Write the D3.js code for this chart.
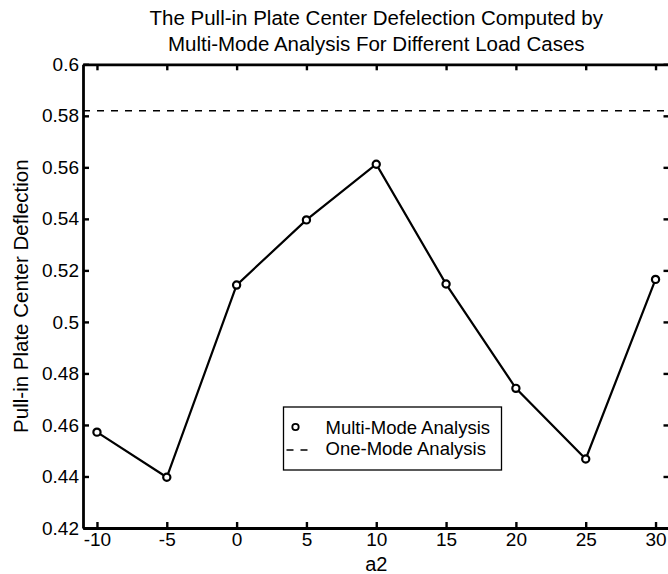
<!DOCTYPE html>
<html>
<head>
<meta charset="utf-8">
<script src="https://cdn.jsdelivr.net/npm/d3@7"></script>
<style>
  html, body { margin: 0; padding: 0; background: #fff; }
  svg { display: block; }
  text { font-family: "Liberation Sans", Arial, Helvetica, sans-serif; fill: #000; }
</style>
</head>
<body>
<svg id="chart" width="668" height="574"></svg>
<script>
// Load-case parameter a2 and the pull-in centre deflection from multi-mode analysis
const a2Values = [-10, -5, 0, 5, 10, 15, 20, 25, 30];
const multiModeDeflection = [0.4572, 0.4397, 0.5143, 0.5396, 0.5612, 0.5147, 0.4742, 0.4468, 0.5165];
// Single-mode result (constant across load cases)
const oneModeDeflection = 0.582;

const xTicks = [-10, -5, 0, 5, 10, 15, 20, 25, 30];
const yTicks = [0.42, 0.44, 0.46, 0.48, 0.5, 0.52, 0.54, 0.56, 0.58, 0.6];
const titleLines = [
  "The Pull-in Plate Center Defelection Computed by",
  "Multi-Mode Analysis For Different Load Cases"
];
const legendLabels = ["Multi-Mode Analysis", "One-Mode Analysis"];

const svg = d3.select("#chart");
const margin = { left: 83, right: -1.5, top: 64.3, bottom: 46 };
const W = 668, H = 574;
const x0 = margin.left, x1 = W - margin.right;
const y0 = margin.top, y1 = H - margin.bottom;

const x = d3.scaleLinear().domain([-11, 31]).range([x0, x1]);
const y = d3.scaleLinear().domain([0.42, 0.6]).range([y1, y0]);

const fmtY = d => String(+d.toFixed(2));
const fmtX = d => String(d);
const tickLen = 6;

// Axes with inward ticks on all four sides
const gBottom = svg.append("g").attr("transform", `translate(0,${y1})`)
  .call(d3.axisBottom(x).tickValues(xTicks).tickFormat(fmtX).tickSizeInner(-tickLen).tickSizeOuter(0).tickPadding(5));
const gTop = svg.append("g").attr("transform", `translate(0,${y0})`)
  .call(d3.axisTop(x).tickValues(xTicks).tickFormat("").tickSizeInner(-tickLen).tickSizeOuter(0));
const gLeft = svg.append("g").attr("transform", `translate(${x0},0)`)
  .call(d3.axisLeft(y).tickValues(yTicks).tickFormat(fmtY).tickSizeInner(-tickLen).tickSizeOuter(0).tickPadding(4));
const gRight = svg.append("g").attr("transform", `translate(${x1},0)`)
  .call(d3.axisRight(y).tickValues(yTicks).tickFormat("").tickSizeInner(-tickLen).tickSizeOuter(0));

[gBottom, gTop, gLeft, gRight].forEach(g => {
  g.select(".domain").attr("stroke", "#000").attr("stroke-width", 2.8);
  g.selectAll(".tick line").attr("stroke", "#000").attr("stroke-width", 2.4);
  g.selectAll(".tick text").attr("font-size", 19).attr("fill", "#000")
    .style("font-family", "'Liberation Sans', Arial, sans-serif");
});

// One-mode reference (dashed)
svg.append("line")
  .attr("x1", x0).attr("x2", x1)
  .attr("y1", y(oneModeDeflection)).attr("y2", y(oneModeDeflection))
  .attr("stroke", "#000").attr("stroke-width", 1.5)
  .attr("stroke-dasharray", "7,7");

// Multi-mode curve
const pts = a2Values.map((a, i) => [a, multiModeDeflection[i]]);
svg.append("path")
  .datum(pts)
  .attr("fill", "none").attr("stroke", "#000").attr("stroke-width", 2.2)
  .attr("d", d3.line().x(d => x(d[0])).y(d => y(d[1])));

svg.selectAll("circle.mm")
  .data(pts).enter().append("circle").attr("class", "mm")
  .attr("cx", d => x(d[0])).attr("cy", d => y(d[1]))
  .attr("r", 3.6).attr("fill", "#fff").attr("stroke", "#000").attr("stroke-width", 2.2);

// Title
svg.append("g").selectAll("text").data(titleLines).enter().append("text")
  .attr("x", (x0 + x1) / 2).attr("y", (d, i) => 25 + i * 26)
  .attr("text-anchor", "middle").attr("font-size", 20.5).text(d => d);

// Axis labels
svg.append("text").attr("x", (x0 + x1) / 2).attr("y", 571)
  .attr("text-anchor", "middle").attr("font-size", 20).text("a2");
svg.append("text")
  .attr("transform", `translate(28,${(y0 + y1) / 2}) rotate(-90)`)
  .attr("text-anchor", "middle").attr("font-size", 20.5)
  .text("Pull-in Plate Center Deflection");

// Legend
const lg = svg.append("g").attr("transform", "translate(283.5,407)");
lg.append("rect").attr("width", 218).attr("height", 63)
  .attr("fill", "#fff").attr("stroke", "#000").attr("stroke-width", 1.3);
lg.append("circle").attr("cx", 12).attr("cy", 20).attr("r", 3.2)
  .attr("fill", "#fff").attr("stroke", "#000").attr("stroke-width", 1.8);
lg.append("line").attr("x1", 3).attr("x2", 28).attr("y1", 43).attr("y2", 43)
  .attr("stroke", "#000").attr("stroke-width", 1.5).attr("stroke-dasharray", "7,7");
lg.selectAll("text.lbl").data(legendLabels).enter().append("text").attr("class", "lbl")
  .attr("x", 42).attr("y", (d, i) => 27 + i * 20.5)
  .attr("font-size", 18.5).text(d => d);
</script>
</body>
</html>
